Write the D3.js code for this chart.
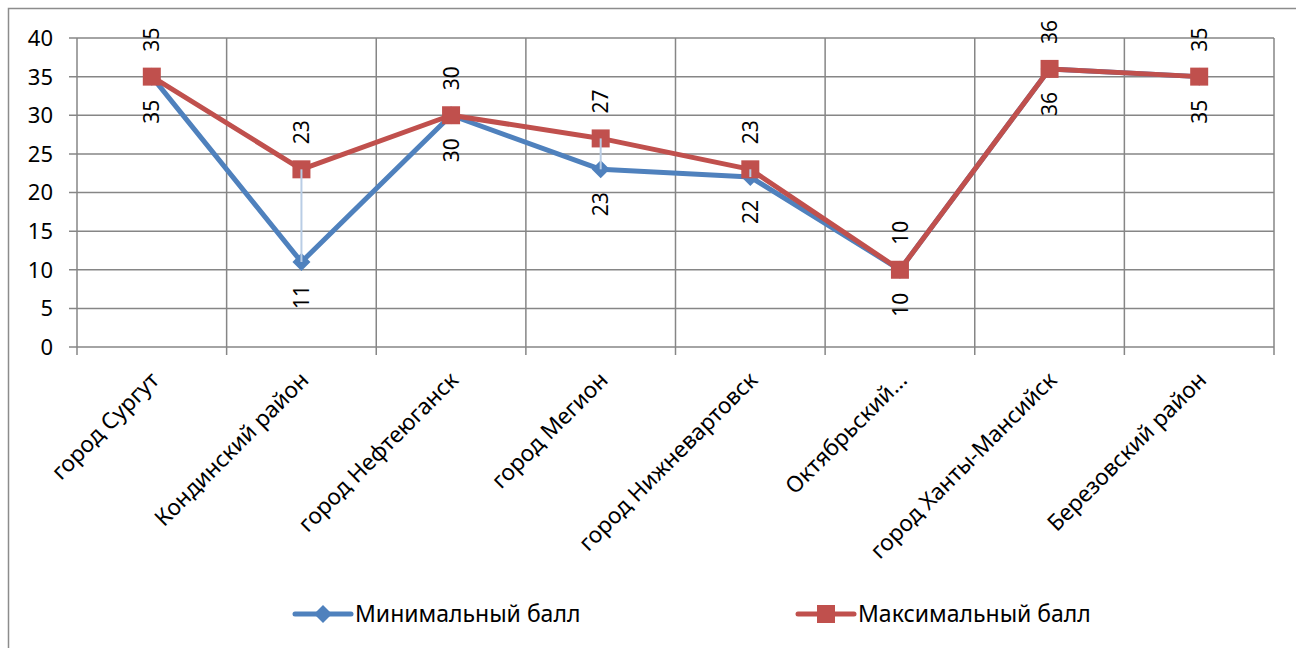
<!DOCTYPE html>
<html>
<head>
<meta charset="utf-8">
<script src="https://d3js.org/d3.v7.min.js"></script>
<style>
    body { margin: 0; background: #fff; }
    text { font-family: "Noto Sans", sans-serif; fill: #000; }
</style>
</head>
<body>
<script>
    // chart data
    var categories = ["город Сургут", "Кондинский район", "город Нефтеюганск", "город Мегион",
        "город Нижневартовск", "Октябрьский...", "город Ханты-Мансийск", "Березовский район"];
    var minValues = [35, 11, 30, 23, 22, 10, 36, 35];
    var maxValues = [35, 23, 30, 27, 23, 10, 36, 35];
    var yTicks = [0, 5, 10, 15, 20, 25, 30, 35, 40];
    var seriesNames = ["Минимальный балл", "Максимальный балл"];

    var width = 1296, height = 648;
    var plot = { left: 77, right: 1274, top: 38, bottom: 347 };
    var blue = "#4f81bd", red = "#c0504d", grid = "#868686";

    var svg = d3.select("body").append("svg")
        .attr("width", width)
        .attr("height", height);

    // outer frame
    svg.append("rect")
        .attr("x", 8.5).attr("y", 8.5)
        .attr("width", width + 20).attr("height", height + 20)
        .style("fill", "none").style("stroke", "#8c8c8c").style("stroke-width", 1.5);

    var x = d3.scaleBand().domain(categories).range([plot.left, plot.right]);
    var y = d3.scaleLinear().domain([0, 40]).range([plot.bottom, plot.top]);
    var cx = function (c) { return x(c) + x.bandwidth() / 2; };

    // horizontal grid + y labels
    var gy = svg.append("g");
    gy.selectAll("line").data(yTicks).enter().append("line")
        .attr("x1", plot.left - 8).attr("x2", plot.right)
        .attr("y1", function (d) { return y(d); }).attr("y2", function (d) { return y(d); })
        .style("stroke", grid).style("stroke-width", 1.5);
    gy.selectAll("text").data(yTicks).enter().append("text")
        .attr("x", 53).attr("y", function (d) { return y(d); })
        .attr("dy", "0.36em")
        .attr("text-anchor", "end")
        .style("font-size", "22px")
        .text(function (d) { return d; });

    // vertical grid at band edges
    var edges = categories.map(function (c) { return x(c); }).concat([plot.right]);
    svg.append("g").selectAll("line").data(edges).enter().append("line")
        .attr("x1", function (d) { return d; }).attr("x2", function (d) { return d; })
        .attr("y1", plot.top).attr("y2", plot.bottom + 8)
        .style("stroke", grid).style("stroke-width", 1.5);

    // category labels
    svg.append("g").selectAll("text").data(categories).enter().append("text")
        .attr("transform", function (c) { return "translate(" + (cx(c) + 3) + "," + 376 + ") rotate(-45)"; })
        .attr("text-anchor", "end")
        .attr("dy", "0.35em")
        .style("font-size", "22.5px")
        .text(function (c) { return c; });

    var line = d3.line()
        .x(function (d, i) { return cx(categories[i]); })
        .y(function (d) { return y(d); });

    svg.append("path").datum(minValues)
        .attr("d", line)
        .style("fill", "none").style("stroke", blue).style("stroke-width", 5)
        .style("stroke-linejoin", "round");
    svg.append("path").datum(maxValues)
        .attr("d", line)
        .style("fill", "none").style("stroke", red).style("stroke-width", 5)
        .style("stroke-linejoin", "round");

    // diamond markers
    svg.append("g").selectAll("path").data(minValues).enter().append("path")
        .attr("transform", function (d, i) { return "translate(" + cx(categories[i]) + "," + y(d) + ")"; })
        .attr("d", "M0,-9L9,0L0,9L-9,0Z")
        .style("fill", blue);

    // square markers
    svg.append("g").selectAll("rect").data(maxValues).enter().append("rect")
        .attr("x", function (d, i) { return cx(categories[i]) - 9; })
        .attr("y", function (d) { return y(d) - 9; })
        .attr("width", 18).attr("height", 18)
        .style("fill", red);

    // high-low lines
    svg.append("g").selectAll("line").data(categories).enter().append("line")
        .attr("x1", function (c) { return cx(c); }).attr("x2", function (c) { return cx(c); })
        .attr("y1", function (c, i) { return y(maxValues[i]); })
        .attr("y2", function (c, i) { return y(minValues[i]); })
        .style("stroke", "#b9cde5").style("stroke-width", 2);

    // data labels: max above, min below
    svg.append("g").selectAll("text").data(maxValues).enter().append("text")
        .attr("transform", function (d, i) { return "translate(" + cx(categories[i]) + "," + (y(d) - 25) + ") rotate(-90)"; })
        .attr("dy", "0.36em")
        .attr("text-anchor", "start")
        .style("font-size", "21px")
        .text(function (d) { return d; });
    svg.append("g").selectAll("text").data(minValues).enter().append("text")
        .attr("transform", function (d, i) { return "translate(" + cx(categories[i]) + "," + (y(d) + 23) + ") rotate(-90)"; })
        .attr("dy", "0.36em")
        .attr("text-anchor", "end")
        .style("font-size", "21px")
        .text(function (d) { return d; });

    // legend
    var legendX = [295, 798], legendY = 614;
    var lg = svg.append("g");
    [blue, red].forEach(function (col, k) {
        var lx = legendX[k];
        lg.append("line")
            .attr("x1", lx).attr("x2", lx + 56)
            .attr("y1", legendY).attr("y2", legendY)
            .style("stroke", col).style("stroke-width", 5).style("stroke-linecap", "round");
        if (k === 0) {
            lg.append("path")
                .attr("transform", "translate(" + (lx + 28) + "," + legendY + ")")
                .attr("d", "M0,-9L9,0L0,9L-9,0Z").style("fill", col);
        } else {
            lg.append("rect")
                .attr("x", lx + 19).attr("y", legendY - 9)
                .attr("width", 18).attr("height", 18).style("fill", col);
        }
        lg.append("text")
            .attr("x", lx + 60).attr("y", legendY)
            .attr("dy", "0.36em")
            .style("font-size", "23px")
            .text(seriesNames[k]);
    });
</script>
</body>
</html>
